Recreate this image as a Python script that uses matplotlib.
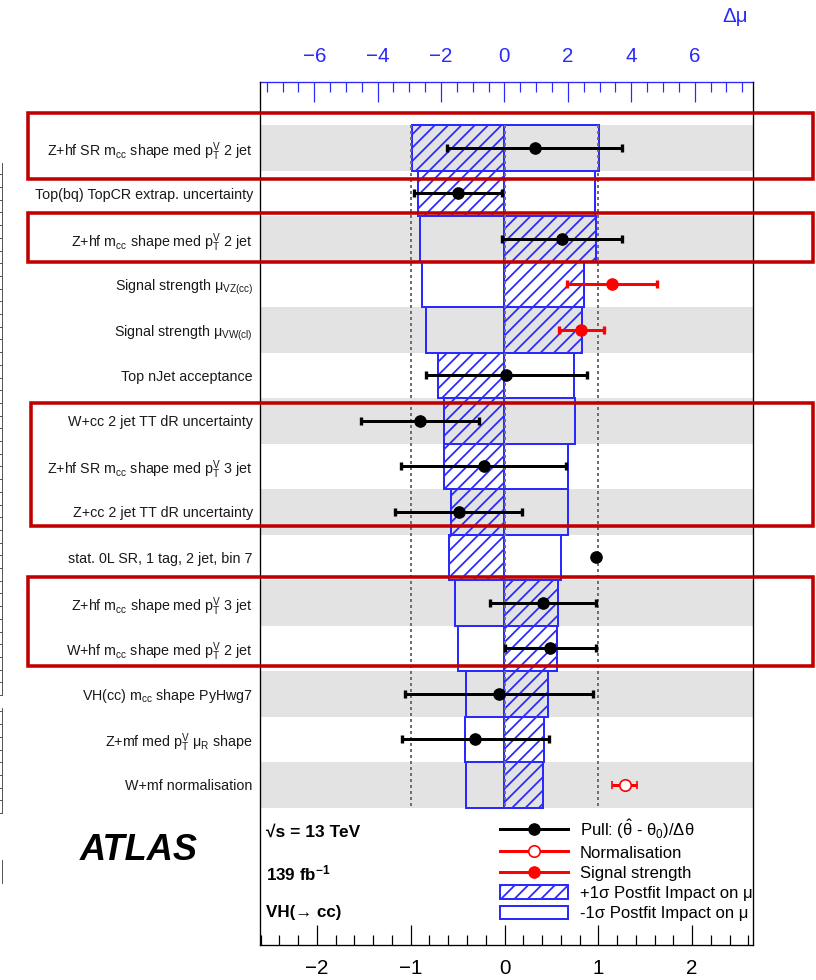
import matplotlib.pyplot as plt
from matplotlib.lines import Line2D
from matplotlib.patches import Patch, Rectangle
from matplotlib.ticker import MultipleLocator
import numpy as np

plt.rcParams['font.family'] = ['Liberation Sans', 'DejaVu Sans']
plt.rcParams['mathtext.fontset'] = 'custom'
plt.rcParams['mathtext.rm'] = 'Liberation Sans'
plt.rcParams['mathtext.it'] = 'Liberation Sans:italic'
plt.rcParams['mathtext.bf'] = 'Liberation Sans:bold'
plt.rcParams['mathtext.sf'] = 'Liberation Sans'
plt.rcParams['hatch.linewidth'] = 1.6

# nuisance parameters, ranked by impact on mu
labels = [
    r"Z+hf SR m$_{\mathrm{cc}}$ shape med p$_{\mathrm{T}}^{\mathrm{V}}$ 2 jet",
    "Top(bq) TopCR extrap. uncertainty",
    r"Z+hf m$_{\mathrm{cc}}$ shape med p$_{\mathrm{T}}^{\mathrm{V}}$ 2 jet",
    r"Signal strength μ$_{\mathrm{VZ(cc)}}$",
    r"Signal strength μ$_{\mathrm{VW(cl)}}$",
    "Top nJet acceptance",
    "W+cc 2 jet TT dR uncertainty",
    r"Z+hf SR m$_{\mathrm{cc}}$ shape med p$_{\mathrm{T}}^{\mathrm{V}}$ 3 jet",
    "Z+cc 2 jet TT dR uncertainty",
    "stat. 0L SR, 1 tag, 2 jet, bin 7",
    r"Z+hf m$_{\mathrm{cc}}$ shape med p$_{\mathrm{T}}^{\mathrm{V}}$ 3 jet",
    r"W+hf m$_{\mathrm{cc}}$ shape med p$_{\mathrm{T}}^{\mathrm{V}}$ 2 jet",
    r"VH(cc) m$_{\mathrm{cc}}$ shape PyHwg7",
    r"Z+mf med p$_{\mathrm{T}}^{\mathrm{V}}$ μ$_{\mathrm{R}}$ shape",
    "W+mf normalisation",
]
kinds = ['pull', 'pull', 'pull', 'signal', 'signal', 'pull', 'pull', 'pull',
         'pull', 'pull', 'pull', 'pull', 'pull', 'pull', 'norm']
pulls = [0.32, -0.50, 0.61, 1.15, 0.82, 0.02, -0.90, -0.22, -0.49, 0.98,
         0.41, 0.49, -0.06, -0.31, 1.28]
pull_err = [0.93, 0.47, 0.64, 0.48, 0.24, 0.86, 0.63, 0.88, 0.68, 0.0,
            0.57, 0.49, 1.00, 0.78, 0.13]
impact_up = [-2.93, -2.74, 2.90, 2.52, 2.46, -2.11, -1.92, -1.92, -1.67, -1.74,
             1.70, 1.67, 1.36, 1.26, 1.23]
impact_down = [2.97, 2.87, -2.65, -2.59, -2.46, 2.18, 2.21, 1.99, 2.02, 1.77,
               -1.55, -1.45, -1.20, -1.23, -1.20]

blue = '#2a2aff'
W, H, DPI = 816, 980, 80


def px_box(x0, y0, x1, y1):
    return [x0 / W, 1 - y1 / H, (x1 - x0) / W, (y1 - y0) / H]


fig = plt.figure(figsize=(W / DPI, H / DPI), dpi=DPI)

ax = fig.add_axes(px_box(260, 82, 753, 945))
ax_top = ax.twiny()
ax.set_zorder(ax_top.get_zorder() + 1)
ax.patch.set_visible(False)

n = len(labels)
rows = np.arange(n)
kinds = np.array(kinds)
pulls = np.array(pulls)
pull_err = np.array(pull_err)

ax.set_ylim(17.52, -1.45)
ax.set_xlim(-2.607, 2.649)
ax_top.set_xlim(-7.71, 7.84)

# alternating row shading
for i in rows[::2]:
    ax_top.axhspan(i - 0.5, i + 0.5, color='#e3e3e3', lw=0, zorder=0)

# postfit impacts on mu
ax_top.barh(rows, impact_down, height=1.0, left=0, facecolor='none',
            edgecolor=blue, lw=1.8, zorder=2)
ax_top.barh(rows, impact_up, height=1.0, left=0, facecolor='none',
            edgecolor=blue, hatch='//', lw=1.8, zorder=2)

ax.vlines([-1, 0, 1], -0.5, n - 0.5, colors='#707070',
          linestyles=(0, (1.5, 1.5)), lw=1.8, zorder=1)

m = kinds == 'pull'
has_err = m & (pull_err > 0)
ax.errorbar(pulls[has_err], rows[has_err], xerr=pull_err[has_err], fmt='o',
            color='black', ms=10.3, lw=2.7, capsize=3.4, capthick=3, zorder=4)
no_err = m & (pull_err == 0)
ax.plot(pulls[no_err], rows[no_err], 'o', color='black', ms=10.3, zorder=4)
m = kinds == 'signal'
ax.errorbar(pulls[m], rows[m], xerr=pull_err[m], fmt='o', color='red',
            ms=10.3, lw=2.7, capsize=3.4, capthick=3, zorder=4)
m = kinds == 'norm'
ax.errorbar(pulls[m], rows[m], xerr=pull_err[m], fmt='o', color='red',
            mfc='white', mec='red', mew=1.5, ms=10.3, lw=2.7, capsize=3.4,
            capthick=3, zorder=4)

# axes styling
ax.set_yticks(rows, labels)
ax.tick_params(axis='y', length=0, labelsize=12.8, pad=6.5, labelcolor='#1a1a1a')
ax.xaxis.set_major_locator(MultipleLocator(1))
ax.xaxis.set_minor_locator(MultipleLocator(0.2))
ax.tick_params(axis='x', which='major', direction='in', length=18, width=1.1,
               labelsize=18.5, pad=13, top=False)
ax.tick_params(axis='x', which='minor', direction='in', length=9, width=1.1,
               top=False)
ax.spines['top'].set_visible(False)
for s in ['left', 'right', 'bottom']:
    ax.spines[s].set_linewidth(1.2)

ax_top.xaxis.set_major_locator(MultipleLocator(2))
ax_top.xaxis.set_minor_locator(MultipleLocator(0.5))
ax_top.tick_params(axis='x', which='major', direction='in', length=18, width=1.1,
                   labelsize=18.5, pad=14, colors=blue)
ax_top.tick_params(axis='x', which='minor', direction='in', length=9, width=1.1,
                   colors=blue)
for s in ['left', 'right', 'bottom']:
    ax_top.spines[s].set_visible(False)
ax_top.spines['top'].set_color(blue)
ax_top.spines['top'].set_linewidth(1.2)

fig.text(735 / W, 1 - 17 / H, 'Δμ', color=blue, fontsize=18.5,
         ha='center', va='center')

# labels in the lower-left corner
fig.text(80 / W, 1 - 860 / H, 'ATLAS', fontsize=32.5, fontweight='bold',
         fontstyle='italic', ha='left', va='baseline')
ax.text(0.013, 1 - (832 - 82) / 863, '√s = 13 TeV', transform=ax.transAxes,
        fontsize=15.6, fontweight='bold', va='center')
ax.text(0.013, 1 - (873 - 82) / 863, r'139 fb$^{\mathbf{-1}}$',
        transform=ax.transAxes, fontsize=15.3, fontweight='bold', va='center')
ax.text(0.013, 1 - (912 - 82) / 863, 'VH(→ cc)', transform=ax.transAxes,
        fontsize=15.3, fontweight='bold', va='center')

handles = [
    Line2D([], [], color='black', lw=2.7, marker='o', ms=10.3),
    Line2D([], [], color='red', lw=2.7, marker='o', ms=10.3, mfc='white',
           mec='red', mew=1.5),
    Line2D([], [], color='red', lw=2.7, marker='o', ms=10.3),
    Patch(facecolor='none', edgecolor=blue, hatch='//', lw=1.8),
    Patch(facecolor='white', edgecolor=blue, lw=1.8),
]
leg_labels = [
    r'Pull: ($\mathrm{\hat{\theta}}$ - $\mathrm{\theta}_{0}$)/$\mathrm{\Delta\theta}$',
    'Normalisation',
    'Signal strength',
    '+1σ Postfit Impact on μ',
    '-1σ Postfit Impact on μ',
]
ax.legend(handles, leg_labels, loc='upper left',
          bbox_to_anchor=(500 / W, 1 - 817 / H), bbox_transform=fig.transFigure,
          frameon=False, fontsize=15, handlelength=4.1, handletextpad=0.7,
          labelspacing=0.28, borderpad=0, borderaxespad=0, handleheight=0.85)

# highlighted nuisance parameters
for x0, y0, x1, y1 in [(28, 113, 813, 179), (28, 213, 813, 262),
                       (31, 403, 813, 526), (28, 577, 813, 666)]:
    fig.add_artist(Rectangle((x0 / W, 1 - y1 / H), (x1 - x0) / W, (y1 - y0) / H,
                             transform=fig.transFigure, fill=False,
                             ec='#c00000', lw=3.2, zorder=10))

# edge of the neighbouring panel
for y0, y1, ticks in [(163, 695, True), (708, 813, True), (860, 883, False)]:
    side = fig.add_axes(px_box(-80, y0, 2, y1))
    side.patch.set_visible(False)
    for s in ['left', 'top', 'bottom']:
        side.spines[s].set_visible(False)
    side.spines['right'].set_color('#444444')
    side.set_xticks([])
    side.set_ylim(0, y1 - y0)
    if ticks:
        side.yaxis.set_major_locator(MultipleLocator(12.7))
        side.tick_params(axis='y', direction='in', length=3, left=False,
                         right=True, labelleft=False, labelright=False,
                         color='#444444')
    else:
        side.set_yticks([])

fig.savefig('out.png', dpi=DPI)
